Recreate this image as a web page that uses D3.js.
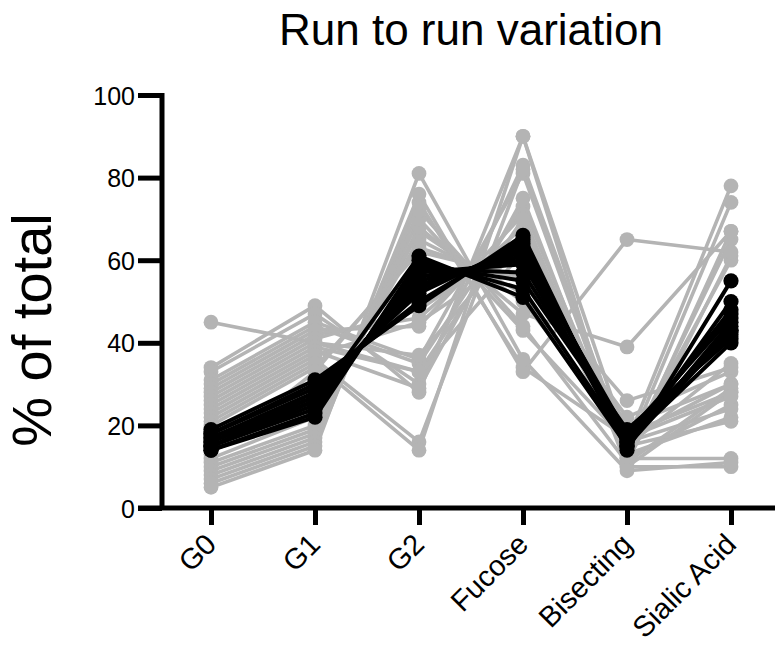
<!DOCTYPE html>
<html>
<head>
<meta charset="utf-8">
<script src="https://cdn.jsdelivr.net/npm/d3@7"></script>
<style>
  html, body { margin: 0; padding: 0; background: #fff; }
  svg { display: block; font-family: "Liberation Sans", Arial, sans-serif; }
</style>
</head>
<body>
<div id="chart"></div>
<script>
const categories = ["G0", "G1", "G2", "Fucose", "Bisecting", "Sialic Acid"];
const yTicks = [0, 20, 40, 60, 80, 100];

// gray runs: [G0, G1, G2, Fucose, Bisecting, Sialic Acid]
const grayRuns = [
  [45, 40, 33, 62, 20, 30],
  [34, 49, 28, 90, 16, 78],
  [33, 47, 30, 83, 14, 74],
  [31, 45, 36, 81, 12, 67],
  [30, 44, 35, 73, 13, 65],
  [29, 43, 44, 71, 11, 61],
  [28, 42, 46, 68, 14, 60],
  [27, 41, 48, 65, 15, 35],
  [26, 40, 37, 66, 17, 30],
  [25, 39, 33, 70, 12, 25],
  [24, 38, 29, 75, 10, 28],
  [23, 37, 45, 62, 13, 22],
  [22, 36, 16, 82, 12, 12],
  [21, 35, 14, 90, 10, 10],
  [20, 34, 62, 56, 22, 33],
  [13, 33, 63, 55, 26, 34],
  [12, 22, 65, 52, 15, 21],
  [11, 20, 67, 50, 18, 28],
  [10, 19, 68, 47, 39, 67],
  [9, 18, 70, 43, 16, 24],
  [8, 17, 72, 44, 11, 29],
  [7, 16, 74, 34, 17, 27],
  [6, 15, 76, 33, 65, 62],
  [5, 14, 81, 36, 9, 11]
];

// black runs
const blackRuns = [
  [19, 31, 49, 66, 14, 55],
  [18, 30, 50, 65, 15, 50],
  [18, 29, 52, 64, 16, 48],
  [17, 28, 53, 63, 17, 47],
  [17, 27, 54, 62, 18, 46],
  [16, 27, 55, 61, 15, 45],
  [16, 26, 56, 60, 16, 44],
  [15, 25, 57, 59, 17, 43],
  [15, 24, 58, 57, 18, 42],
  [14, 23, 59, 55, 19, 41],
  [14, 22, 60, 53, 16, 40],
  [15, 26, 61, 51, 15, 43]
];

const W = 775, H = 645;
const svg = d3.select("#chart").append("svg").attr("width", W).attr("height", H);

const axisX = 162, axisY = 508;
const x = d3.scalePoint().domain(categories).range([211, 731]);
const y = d3.scaleLinear().domain([0, 100]).range([axisY, 95]);

// title
svg.append("text").attr("x", 471).attr("y", 45).attr("text-anchor", "middle")
  .style("font-size", "44px").text("Run to run variation");

// y label
svg.append("text").attr("transform", "translate(51,330) rotate(-90)")
  .attr("text-anchor", "middle").style("font-size", "56px").text("% of total");

const line = d3.line().x((d, i) => x(categories[i])).y(d => y(d));

function drawRuns(runs, color, sw, r) {
  const grp = svg.append("g");
  runs.forEach(run => {
    grp.append("path").attr("d", line(run)).attr("fill", "none")
      .attr("stroke", color).attr("stroke-width", sw).attr("stroke-linejoin", "round");
  });
  runs.forEach(run => {
    grp.selectAll(null).data(run).enter().append("circle")
      .attr("cx", (d, i) => x(categories[i])).attr("cy", d => y(d))
      .attr("r", r).attr("fill", color);
  });
}
drawRuns(grayRuns, "#b4b4b4", 3.6, 7.4);
drawRuns(blackRuns, "#000", 4, 7.6);

// axes
const ya = svg.append("g").attr("transform", `translate(${axisX},0)`)
  .call(d3.axisLeft(y).tickValues(yTicks).tickSize(24).tickPadding(3));
ya.select(".domain").attr("stroke-width", 5).attr("d", `M0,${y(100) - 2}V${axisY}`);
ya.selectAll(".tick line").attr("stroke-width", 5);
ya.selectAll(".tick text").style("font-size", "25px").attr("dy", "0.36em")
  .attr("font-family", "Liberation Sans, Arial, sans-serif");

const xa = svg.append("g").attr("transform", `translate(0,${axisY})`)
  .call(d3.axisBottom(x).tickSize(17).tickFormat(""));
xa.select(".domain").attr("stroke-width", 5).attr("d", `M${axisX - 24},0H${W}`);
xa.selectAll(".tick line").attr("stroke-width", 5);

svg.append("g").selectAll("text").data(categories).enter().append("text")
  .attr("transform", d => `translate(${x(d) + 7},546) rotate(-45)`)
  .attr("text-anchor", "end").style("font-size", "29px").text(d => d);
</script>
</body>
</html>
